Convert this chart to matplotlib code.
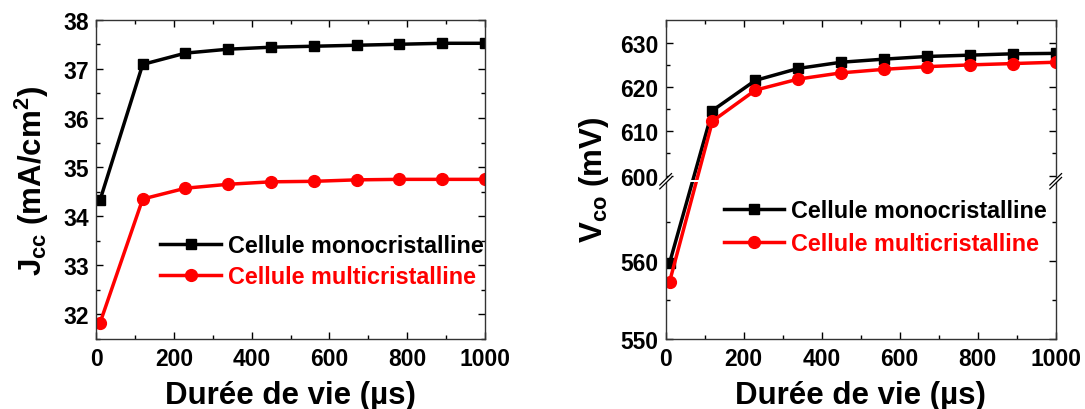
import numpy as np
import matplotlib
matplotlib.use('Agg')
import matplotlib.pyplot as plt
from matplotlib.ticker import MultipleLocator, FixedLocator

plt.rcParams['font.family'] = ['Liberation Sans', 'DejaVu Sans']
plt.rcParams['font.weight'] = 'bold'
plt.rcParams['mathtext.fontset'] = 'custom'
plt.rcParams['mathtext.rm'] = 'Liberation Sans:bold'
plt.rcParams['mathtext.bf'] = 'Liberation Sans:bold'
plt.rcParams['mathtext.default'] = 'rm'

# lifetime (us)
duree = [10, 120, 230, 340, 450, 560, 670, 780, 890, 1000]

jcc_mono = [34.32, 37.09, 37.32, 37.40, 37.44, 37.46, 37.48, 37.50, 37.52, 37.52]
jcc_multi = [31.82, 34.35, 34.57, 34.65, 34.70, 34.71, 34.74, 34.75, 34.75, 34.75]

vco_mono = [559.7, 614.7, 621.5, 624.2, 625.6, 626.3, 626.9, 627.2, 627.5, 627.6]
vco_multi = [557.3, 612.3, 619.3, 621.8, 623.2, 624.0, 624.6, 625.0, 625.3, 625.6]

labels = ['Cellule monocristalline', 'Cellule multicristalline']

# broken y axis for Vco: 550-570 below, 599-635 above
knots_y = np.array([400.0, 550.0, 570.0, 599.0, 635.2, 800.0])
knots_f = np.array([-3.678, 0.0, 0.4904, 0.4978, 1.0, 1.0 + 164.8 * 0.01387])


def fwd(y):
    return np.interp(y, knots_y, knots_f)


def inv(f):
    return np.interp(f, knots_f, knots_y)


def style_axes(ax):
    ax.tick_params(which='both', direction='in', top=True, right=True,
                   labelsize=16.5, width=1.0)
    ax.tick_params(axis='x', pad=6)
    ax.tick_params(axis='y', pad=5)
    ax.tick_params(which='major', length=5)
    ax.tick_params(which='minor', length=3)
    for s in ax.spines.values():
        s.set_linewidth(1.0)
        s.set_color('#333333')


fig = plt.figure(figsize=(10.85, 4.10), dpi=100)
ax1 = fig.add_axes([0.0885, 0.1707, 0.3585, 0.7788])
ax2 = fig.add_axes([0.6135, 0.1707, 0.3595, 0.7788])

leg_kw = dict(loc='center left', frameon=False, handlelength=2.6,
              handletextpad=0.3, borderpad=0, borderaxespad=0,
              labelcolor='linecolor', prop={'weight': 'bold', 'size': 16.8})

# left: Jcc
ax1.plot(duree, jcc_mono, color='black', lw=2.5, marker='s', ms=7, label=labels[0])
ax1.plot(duree, jcc_multi, color='red', lw=2.5, marker='o', ms=8.5, label=labels[1])
ax1.set_xlim(0, 1000)
ax1.set_ylim(31.5, 38)
ax1.xaxis.set_major_locator(MultipleLocator(200))
ax1.xaxis.set_minor_locator(MultipleLocator(100))
ax1.yaxis.set_major_locator(MultipleLocator(1))
ax1.yaxis.set_minor_locator(MultipleLocator(0.5))
ax1.set_xlabel('Durée de vie (µs)', fontsize=22.5, fontweight='bold', labelpad=7)
ax1.set_ylabel(r'J$_{cc}$ (mA/cm$^{2}$)', fontsize=22.5, fontweight='bold', labelpad=9)
ax1.legend(bbox_to_anchor=(0.165, 0.243), labelspacing=0.34, **leg_kw)
style_axes(ax1)

# right: Vco
ax2.set_yscale('function', functions=(fwd, inv))
ax2.plot(duree, vco_mono, color='black', lw=2.5, marker='s', ms=7, label=labels[0])
ax2.plot(duree, vco_multi, color='red', lw=2.5, marker='o', ms=8.5, label=labels[1])
ax2.set_xlim(0, 1000)
ax2.set_ylim(550, 635.2)
ax2.xaxis.set_major_locator(MultipleLocator(200))
ax2.xaxis.set_minor_locator(MultipleLocator(100))
ax2.yaxis.set_major_locator(FixedLocator([550, 560, 600, 610, 620, 630]))
ax2.yaxis.set_minor_locator(FixedLocator([555, 565, 605, 615, 625]))
ax2.yaxis.set_major_formatter(plt.FormatStrFormatter('%d'))
ax2.yaxis.set_minor_formatter(plt.NullFormatter())
ax2.axhspan(570, 599, color='white', zorder=3, lw=0)
ax2.set_xlabel('Durée de vie (µs)', fontsize=22.5, fontweight='bold', labelpad=7)
ax2.set_ylabel(r'V$_{co}$ (mV)', fontsize=22.5, fontweight='bold', labelpad=7)
ax2.legend(bbox_to_anchor=(0.149, 0.351), labelspacing=0.43, **leg_kw)
style_axes(ax2)

# break marks on both spines
yb = float(fwd(584.5))
for xs in (0.0, 1.0):
    dx, dy = 0.015, 0.018
    poly = plt.Polygon([[xs - dx, yb - dy - 0.006], [xs + dx, yb + dy - 0.006],
                        [xs + dx, yb + dy + 0.006], [xs - dx, yb - dy + 0.006]],
                       closed=True, transform=ax2.transAxes, facecolor='white',
                       edgecolor='none', clip_on=False, zorder=5)
    ax2.add_patch(poly)
    for off in (-0.006, 0.006):
        ax2.plot([xs - dx, xs + dx], [yb - dy + off, yb + dy + off],
                 transform=ax2.transAxes, color='black', lw=0.9,
                 clip_on=False, zorder=6)

fig.canvas.draw()
for ax in (ax1, ax2):
    plt.setp(ax.get_xticklabels() + ax.get_yticklabels(), fontweight='bold')

fig.savefig('out.png', dpi=100)
